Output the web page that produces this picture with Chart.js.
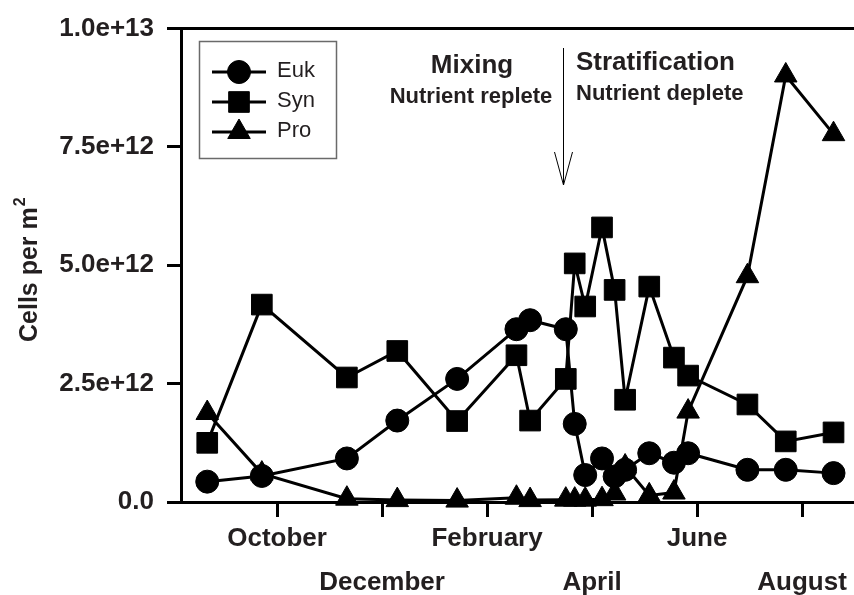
<!DOCTYPE html>
<html lang="en">
<head>
<meta charset="UTF-8">
<title>Cells per m2</title>
<script src="https://cdn.jsdelivr.net/npm/chart.js"></script>
<style>
    html, body { margin: 0; padding: 0; background: #fff; overflow: hidden; }
    #wrap { position: relative; width: 854px; height: 595px; }
    #wrap canvas { display: block; }
</style>
</head>
<body>
<div id="wrap"><canvas id="cellChart"></canvas></div>

<script>
    // sampling dates in months (10 = October, 12 = December, 14 = February of the next year ...)
    const sampleMonths = [8.67, 9.71, 11.33, 12.29, 13.43, 14.56, 14.82, 15.50, 15.67, 15.87,
                          16.19, 16.43, 16.63, 17.09, 17.56, 17.83, 18.96, 19.69, 20.60];

    // cells per m2
    const eukCells = [0.43e12, 0.55e12, 0.92e12, 1.72e12, 2.60e12, 3.65e12, 3.84e12, 3.65e12, 1.65e12, 0.57e12,
                      0.92e12, 0.54e12, 0.68e12, 1.03e12, 0.83e12, 1.03e12, 0.68e12, 0.68e12, 0.61e12];
    const synCells = [1.25e12, 4.17e12, 2.63e12, 3.19e12, 1.71e12, 3.10e12, 1.72e12, 2.60e12, 5.04e12, 4.13e12,
                      5.80e12, 4.48e12, 2.16e12, 4.55e12, 3.05e12, 2.67e12, 2.06e12, 1.28e12, 1.47e12];
    const proCells = [1.88e12, 0.60e12, 0.07e12, 0.04e12, 0.03e12, 0.09e12, 0.04e12, 0.05e12, 0.05e12, 0.05e12,
                      0.06e12, 0.18e12, 0.75e12, 0.14e12, 0.20e12, 1.91e12, 4.77e12, 9.01e12, 7.77e12];

    const monthTicks = [10, 12, 14, 16, 18, 20];
    const monthLabels = ['October', 'December', 'February', 'April', 'June', 'August'];
    const yTicks = [0, 2.5e12, 5.0e12, 7.5e12, 1.0e13];
    const yTickLabels = ['0.0', '2.5e+12', '5.0e+12', '7.5e+12', '1.0e+13'];

    const FONT = '"Liberation Sans", Arial, Helvetica, sans-serif';
    const INK = '#231f20';

    function series(label, values, style, radius) {
        return {
            label: label,
            data: sampleMonths.map((m, i) => ({ x: m, y: values[i] })),
            borderColor: '#000',
            backgroundColor: '#000',
            borderWidth: 3,
            pointStyle: style,
            pointRadius: radius,
            pointBackgroundColor: '#000',
            pointBorderColor: '#000',
            pointBorderWidth: 1,
            tension: 0,
            clip: false
        };
    }

    // legend box in the top left corner, line through the marker like the original
    const boxLegend = {
        id: 'boxLegend',
        afterDraw(chart) {
            const ctx = chart.ctx;
            ctx.save();
            ctx.strokeStyle = '#6a6a6a';
            ctx.lineWidth = 1.5;
            ctx.strokeRect(199.5, 41.5, 137, 117);
            chart.data.datasets.forEach((ds, i) => {
                const y = 72 + i * 30;
                ctx.beginPath();
                ctx.moveTo(212, y);
                ctx.lineTo(266, y);
                ctx.lineWidth = 3;
                ctx.strokeStyle = '#000';
                ctx.stroke();
                ctx.fillStyle = '#000';
                ctx.lineWidth = 1;
                Chart.helpers.drawPoint(ctx, {
                    pointStyle: ds.pointStyle,
                    radius: ds.pointRadius,
                    borderWidth: 1,
                    rotation: 0
                }, 239, y);
                ctx.fillStyle = INK;
                ctx.font = '22px ' + FONT;
                ctx.textAlign = 'left';
                ctx.textBaseline = 'middle';
                ctx.fillText(ds.label, 277, y - 1);
            });
            ctx.restore();
        }
    };

    // phase annotations, the arrow and the y axis title with its superscript
    const phaseNotes = {
        id: 'phaseNotes',
        afterDraw(chart) {
            const ctx = chart.ctx;
            ctx.save();
            ctx.fillStyle = INK;
            ctx.textBaseline = 'alphabetic';

            ctx.textAlign = 'center';
            ctx.font = 'bold 26px ' + FONT;
            ctx.fillText('Mixing', 472, 73);
            ctx.font = 'bold 22px ' + FONT;
            ctx.fillText('Nutrient replete', 471, 103);

            ctx.textAlign = 'left';
            ctx.font = 'bold 26px ' + FONT;
            ctx.fillText('Stratification', 576, 70);
            ctx.font = 'bold 22px ' + FONT;
            ctx.fillText('Nutrient deplete', 576, 100);

            ctx.strokeStyle = '#000';
            ctx.lineWidth = 1;
            ctx.beginPath();
            ctx.moveTo(563.5, 48);
            ctx.lineTo(563.5, 185);
            ctx.moveTo(554.5, 152);
            ctx.lineTo(563.5, 185);
            ctx.lineTo(572.5, 152);
            ctx.stroke();

            // y title, rotated
            ctx.translate(36.5, 342);
            ctx.rotate(-Math.PI / 2);
            ctx.textAlign = 'left';
            ctx.font = 'bold 25px ' + FONT;
            const main = 'Cells per m';
            ctx.fillText(main, 0, 0);
            const w = ctx.measureText(main).width;
            ctx.font = 'bold 16px ' + FONT;
            ctx.fillText('2', w + 1, -12);
            ctx.restore();
        }
    };

    new Chart(document.getElementById('cellChart'), {
        type: 'line',
        data: {
            datasets: [
                series('Euk', eukCells, 'circle', 11.5),
                series('Syn', synCells, 'rect', 14.6),
                series('Pro', proCells, 'triangle', 13)
            ]
        },
        options: {
            responsive: true,
            maintainAspectRatio: false,
            animation: false,
            events: [],
            layout: { autoPadding: false, padding: { top: 25, left: 0, right: 0, bottom: 0 } },
            plugins: {
                legend: { display: false },
                tooltip: { enabled: false }
            },
            scales: {
                x: {
                    type: 'linear',
                    min: 8.17,
                    max: 20.99,
                    afterBuildTicks: scale => { scale.ticks = monthTicks.map(v => ({ value: v })); },
                    afterFit: scale => { scale.height = 93; },
                    border: { display: true, color: '#000', width: 3 },
                    grid: { drawOnChartArea: false, tickLength: 15, tickWidth: 3, tickColor: '#000' },
                    ticks: {
                        autoSkip: false,
                        maxRotation: 0,
                        minRotation: 0,
                        padding: 0,
                        color: INK,
                        font: { family: FONT, size: 26, weight: 'bold', lineHeight: 1.69 },
                        callback: (value, index) => index % 2 === 0 ? [monthLabels[index], ''] : ['', monthLabels[index]]
                    }
                },
                y: {
                    min: 0,
                    max: 1.0e13,
                    afterBuildTicks: scale => { scale.ticks = yTicks.map(v => ({ value: v })); },
                    afterFit: scale => { scale.width = 181; },
                    border: { display: true, color: '#000', width: 3 },
                    grid: {
                        drawOnChartArea: true,
                        color: c => (c.tick && c.tick.value === 1.0e13) ? '#000' : 'rgba(0,0,0,0)',
                        lineWidth: 3,
                        tickLength: 14,
                        tickWidth: 3,
                        tickColor: '#000'
                    },
                    ticks: {
                        padding: 13,
                        color: INK,
                        font: { family: FONT, size: 26, weight: 'bold' },
                        callback: (value, index) => yTickLabels[index]
                    }
                }
            }
        },
        plugins: [boxLegend, phaseNotes]
    });
</script>
</body>
</html>
